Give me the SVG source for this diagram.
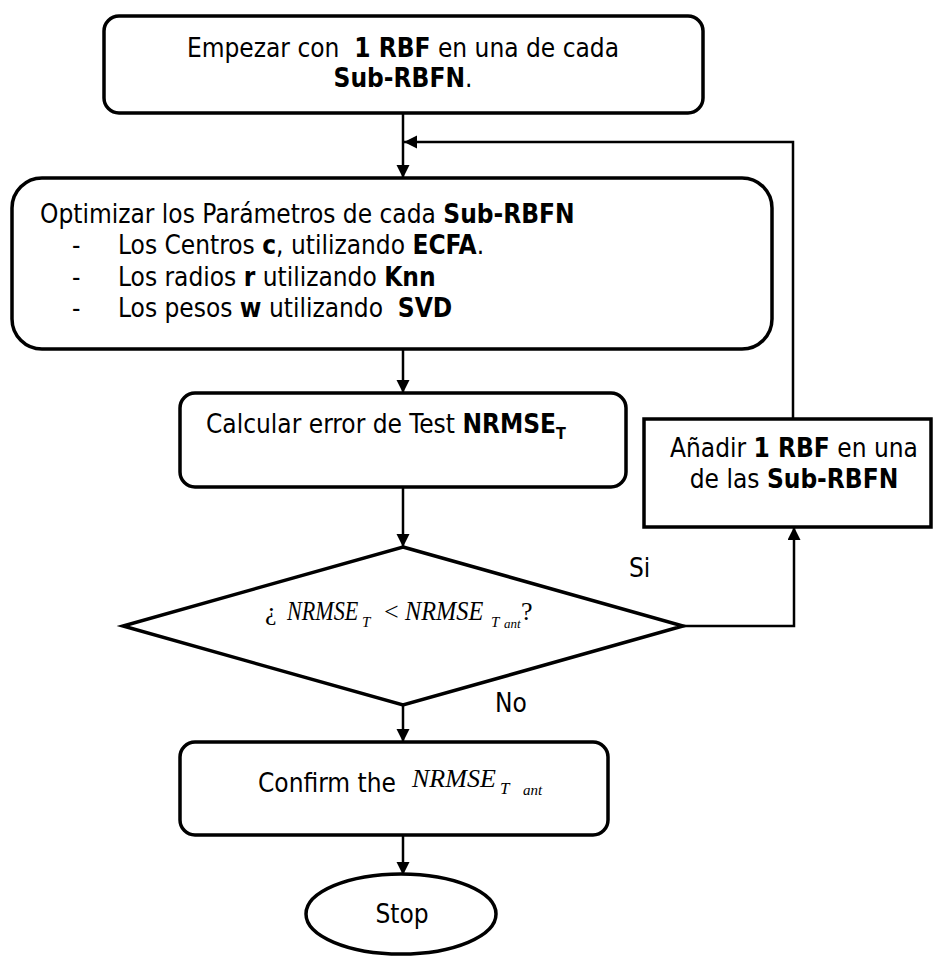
<svg xmlns="http://www.w3.org/2000/svg" width="935" height="968" viewBox="0 0 935 968">
  <style>
    .box { fill: #fff; stroke: #000; stroke-width: 3.5; }
    .shape { fill: #fff; stroke: #000; stroke-width: 3.5; }
    .conn { fill: none; stroke: #000; stroke-width: 2.5; }
    .t { font-family: "DejaVu Sans Condensed", "DejaVu Sans", Verdana, sans-serif; font-size: 26px; fill: #000; }
    .b { font-weight: bold; }
    .m { font-family: "Liberation Serif", "Times New Roman", serif; font-style: italic; fill: #000; }
    .u { font-family: "Liberation Serif", "Times New Roman", serif; fill: #000; }
  </style>
  <defs>
    <marker id="arrow" markerUnits="userSpaceOnUse" markerWidth="14" markerHeight="14" refX="13" refY="6.5" orient="auto">
      <path d="M0,0 L13,6.5 L0,13 z" fill="#000"/>
    </marker>
  </defs>

  <!-- connectors -->
  <g id="connectors">
    <line class="conn" x1="403" y1="113" x2="403" y2="178" marker-end="url(#arrow)"/>
    <polyline class="conn" points="793,419 793,142 404,142" marker-end="url(#arrow)"/>
    <line class="conn" x1="403" y1="349" x2="403" y2="393" marker-end="url(#arrow)"/>
    <line class="conn" x1="403" y1="487" x2="403" y2="547" marker-end="url(#arrow)"/>
    <polyline class="conn" points="683,626 794,626 794,527" marker-end="url(#arrow)"/>
    <line class="conn" x1="403" y1="705" x2="403" y2="742" marker-end="url(#arrow)"/>
    <line class="conn" x1="403" y1="835" x2="403" y2="875" marker-end="url(#arrow)"/>
    <text class="t" x="629" y="577">Si</text>
    <text class="t" x="495" y="712">No</text>
  </g>

  <!-- start -->
  <g id="start">
    <rect class="box" x="104" y="16" width="599" height="97" rx="15"/>
    <text class="t" x="403" y="57" text-anchor="middle" xml:space="preserve">Empezar con  <tspan class="b">1 RBF</tspan> en una de cada</text>
    <text class="t" x="403" y="87" text-anchor="middle"><tspan class="b">Sub-RBFN</tspan>.</text>
  </g>

  <!-- optimise parameters -->
  <g id="optimize">
    <rect class="box" x="12" y="178" width="760" height="171" rx="30"/>
    <text class="t" x="40" y="223">Optimizar los Parámetros de cada <tspan class="b">Sub-RBFN</tspan></text>
    <text class="t" x="72" y="254">-</text>
    <text class="t" x="118" y="254">Los Centros <tspan class="b">c</tspan>, utilizando <tspan class="b">ECFA</tspan>.</text>
    <text class="t" x="72" y="286">-</text>
    <text class="t" x="118" y="286">Los radios <tspan class="b">r</tspan> utilizando <tspan class="b">Knn</tspan></text>
    <text class="t" x="72" y="317">-</text>
    <text class="t" x="118" y="317" xml:space="preserve">Los pesos <tspan class="b">w</tspan> utilizando  <tspan class="b">SVD</tspan></text>
  </g>

  <!-- test error -->
  <g id="test-error">
    <rect class="box" x="180" y="393" width="446" height="94" rx="15"/>
    <text class="t" x="206" y="433">Calcular error de Test <tspan class="b">NRMSE<tspan font-size="16" dy="6">T</tspan></tspan></text>
  </g>

  <!-- decision: condensed italic equation -->
  <g id="decision">
    <polygon class="shape" points="403,547 683,626 403,705 123,626"/>
    <text class="u" x="265" y="620" font-size="26">¿</text>
    <text class="m" transform="translate(287,620) scale(0.82,1)" font-size="27">NRMSE</text>
    <text class="m" x="362" y="627" font-size="15">T</text>
    <text class="u" x="384" y="620" font-size="26">&lt;</text>
    <text class="m" transform="translate(405,620) scale(0.9,1)" font-size="27">NRMSE</text>
    <text class="m" x="491" y="627" font-size="15">T</text>
    <text class="m" x="504" y="628" font-size="13">ant</text>
    <text class="u" x="521" y="620" font-size="26">?</text>
  </g>

  <!-- add one RBF -->
  <g id="add-rbf">
    <rect class="box" x="644" y="419" width="287" height="108"/>
    <text class="t" x="794" y="457" text-anchor="middle">Añadir <tspan class="b">1 RBF</tspan> en una</text>
    <text class="t" x="794" y="488" text-anchor="middle">de las <tspan class="b">Sub-RBFN</tspan></text>
  </g>

  <!-- confirm -->
  <g id="confirm">
    <rect class="box" x="180" y="742" width="428" height="93" rx="15"/>
    <text class="t" x="258" y="792">Confirm the</text>
    <text class="m" x="412" y="787" font-size="26">NRMSE</text>
    <text class="m" x="500" y="794" font-size="17">T</text>
    <text class="m" x="523" y="795" font-size="15">ant</text>
  </g>

  <!-- stop -->
  <g id="stop">
    <ellipse class="shape" cx="401" cy="914" rx="95" ry="40"/>
    <text class="t" x="402" y="923" text-anchor="middle">Stop</text>
  </g>
</svg>
